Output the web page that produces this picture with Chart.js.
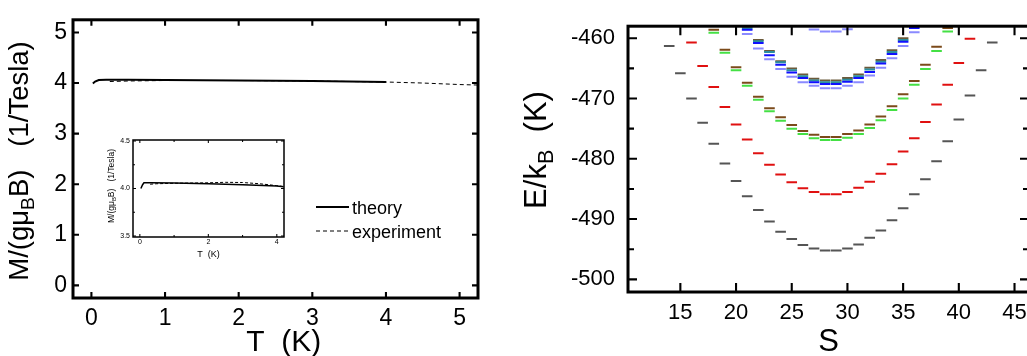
<!DOCTYPE html>
<html>
<head>
<meta charset="utf-8">
<script src="https://cdn.jsdelivr.net/npm/chart.js@4.4.0/dist/chart.umd.min.js"></script>
<style>
  html, body { margin: 0; padding: 0; background: #fff; overflow: hidden; width: 1027px; height: 356px; }
  canvas { position: absolute; }
  #magchart { left: 0; top: 0; }
  #insetchart { left: 95px; top: 130px; }
  #levelchart { left: 500px; top: 0; }
</style>
</head>
<body>
<canvas id="magchart" width="500" height="356"></canvas>
<canvas id="insetchart" width="200" height="130"></canvas>
<canvas id="levelchart" width="540" height="356"></canvas>
<script>
// --- left panel: M/(g muB B) against T
var theoryT = [0.02, 0.05, 0.1, 0.2, 0.5, 1, 2, 3, 4];
var theoryM = [3.99, 4.03, 4.06, 4.065, 4.065, 4.06, 4.05, 4.04, 4.02];
var exptT = [0.25, 0.5, 1, 2, 3, 4, 4.5, 5, 5.25];
var exptM = [4.03, 4.04, 4.05, 4.05, 4.04, 4.02, 4.0, 3.97, 3.96];
var tTicks = [0, 1, 2, 3, 4, 5];
var mTicks = [0, 1, 2, 3, 4, 5];

// inset, zoomed around M = 4
var insetTheoryT = [0.03, 0.08, 0.12, 0.3, 1, 2, 3, 4, 4.2];
var insetTheoryM = [4.0, 4.04, 4.06, 4.06, 4.058, 4.05, 4.04, 4.025, 4.018];
var insetExptT = [0.3, 0.5, 1, 2, 2.5, 3, 3.5, 4, 4.2];
var insetExptM = [4.045, 4.05, 4.055, 4.06, 4.065, 4.063, 4.05, 4.03, 4.02];
var insetTTicks = [0, 2, 4];
var insetTMinor = [1, 3];
var insetMTicks = [3.5, 4.0, 4.5];
var insetMMinor = [3.75, 4.25];

// --- right panel: energy levels E/kB against total spin S
var grayS = [14, 15, 16, 17, 18, 19, 20, 21, 22, 23, 24, 25, 26, 27, 28, 29, 30, 31, 32, 33, 34, 35, 36, 37, 38, 39, 40, 41, 42, 43];
var grayE = [-461.3, -465.8, -470.0, -474.0, -477.5, -480.8, -483.7, -486.2, -488.5, -490.4, -492.1, -493.3, -494.3, -494.9, -495.2,
             -495.2, -494.9, -494.2, -493.1, -491.9, -490.2, -488.2, -485.9, -483.4, -480.4, -477.1, -473.5, -469.5, -465.3, -460.7];
var redS = [16, 17, 18, 19, 20, 21, 22, 23, 24, 25, 26, 27, 28, 29, 30, 31, 32, 33, 34, 35, 36, 37, 38, 39, 40, 41];
var redE = [-460.7, -464.6, -468.1, -471.4, -474.3, -476.8, -479.1, -481.0, -482.6, -483.9, -484.9, -485.5, -485.9,
            -485.9, -485.5, -484.8, -483.8, -482.5, -480.9, -478.8, -476.6, -473.9, -471.0, -467.7, -464.1, -460.1];
var greenS = [18, 19, 20, 21, 22, 23, 24, 25, 26, 27, 28, 29, 30, 31, 32, 33, 34, 35, 36, 37, 38, 39];
var brownE = [-458.6, -461.9, -464.8, -467.4, -469.7, -471.6, -473.1, -474.4, -475.4, -476.0, -476.4,
              -476.4, -475.9, -475.3, -474.3, -473.0, -471.3, -469.3, -467.1, -464.4, -461.4, -458.3];
var greenE = [-459.1, -462.4, -465.3, -467.9, -470.2, -472.1, -473.7, -475.0, -475.9, -476.6, -476.9,
              -476.9, -476.5, -475.9, -474.9, -473.6, -471.9, -470.0, -467.7, -465.1, -462.1, -458.9];
var blueS = [21, 22, 23, 24, 25, 26, 27, 28, 29, 30, 31, 32, 33, 34, 35, 36];
var blueTopE = [-458.1, -460.3, -462.1, -463.8, -465.0, -466.0, -466.7, -467.0, -467.0, -466.6, -466.0, -464.9, -463.6, -462.0, -460.0, -457.7];
var tealE = [-458.4, -460.5, -462.3, -464.0, -465.3, -466.3, -467.0, -467.3, -467.3, -466.9, -466.3, -465.2, -463.9, -462.3, -460.3, -458.0];
var blueE = [-458.6, -460.8, -462.8, -464.4, -465.7, -466.6, -467.3, -467.6, -467.6, -467.2, -466.6, -465.6, -464.2, -462.6, -460.6, -458.3];
var lightBlueE = [-459.3, -461.7, -463.5, -465.1, -466.4, -467.3, -467.9, -468.3, -468.3, -467.9, -467.3, -466.2, -464.9, -463.3, -461.3, -459.0];
var topS = [27, 28, 29, 30];
var topE = [-458.55, -458.9, -458.9, -458.5];
var sTicks = [15, 20, 25, 30, 35, 40, 45];
var eTicks = [-500, -490, -480, -470, -460];
var eMinor = [-495, -485, -475, -465];

var FONT = '"Liberation Sans", Arial, sans-serif';
Chart.defaults.font.family = FONT;
Chart.defaults.color = '#000';

function pairs(xs, ys) {
  return xs.map(function (x, i) { return { x: x, y: ys[i] }; });
}

function fixTicks(list) {
  return function (scale) {
    scale.ticks = list.map(function (v) { return { value: v }; });
  };
}

// box round the plot area, with tick marks pointing inwards on all four sides
function frame(lineWidth, tickLen, minorLen, minorX, minorY) {
  return {
    id: 'frame',
    afterDraw: function (chart) {
      var ctx = chart.ctx, a = chart.chartArea;
      var xs = chart.scales.x, ys = chart.scales.y;
      ctx.save();
      ctx.strokeStyle = '#000';
      ctx.lineWidth = Math.max(1, lineWidth * 0.7);
      ctx.beginPath();
      function tickX(v, len) {
        var px = xs.getPixelForValue(v);
        ctx.moveTo(px, a.bottom); ctx.lineTo(px, a.bottom - len);
        ctx.moveTo(px, a.top); ctx.lineTo(px, a.top + len);
      }
      function tickY(v, len) {
        var py = ys.getPixelForValue(v);
        ctx.moveTo(a.left, py); ctx.lineTo(a.left + len, py);
        ctx.moveTo(a.right, py); ctx.lineTo(a.right - len, py);
      }
      xs.ticks.forEach(function (t) { tickX(t.value, tickLen); });
      ys.ticks.forEach(function (t) { tickY(t.value, tickLen); });
      minorX.forEach(function (v) { tickX(v, minorLen); });
      minorY.forEach(function (v) { tickY(v, minorLen); });
      ctx.stroke();
      ctx.lineWidth = lineWidth;
      ctx.strokeRect(a.left, a.top, a.right - a.left, a.bottom - a.top);
      ctx.restore();
    }
  };
}

// rotated y title with a subscript part
function yTitle(parts, cx, cy, size) {
  return {
    id: 'yTitle',
    afterDraw: function (chart) {
      var ctx = chart.ctx;
      var sub = size * 0.7;
      ctx.save();
      ctx.translate(cx, cy);
      ctx.rotate(-Math.PI / 2);
      ctx.fillStyle = '#000';
      ctx.textBaseline = 'middle';
      var total = 0;
      parts.forEach(function (p) {
        ctx.font = (p.sub ? sub : size) + 'px ' + FONT;
        total += ctx.measureText(p.text).width;
      });
      var x = -total / 2;
      parts.forEach(function (p) {
        ctx.font = (p.sub ? sub : size) + 'px ' + FONT;
        ctx.fillText(p.text, x, p.sub ? size * 0.32 : 0);
        x += ctx.measureText(p.text).width;
      });
      ctx.restore();
    }
  };
}

var lineKey = {
  id: 'lineKey',
  afterDraw: function (chart) {
    var ctx = chart.ctx;
    var rows = [207, 231];
    ctx.save();
    chart.data.datasets.forEach(function (ds, i) {
      ctx.strokeStyle = ds.borderColor;
      ctx.lineWidth = ds.borderWidth;
      ctx.setLineDash(ds.borderDash || []);
      ctx.beginPath();
      ctx.moveTo(316, rows[i]);
      ctx.lineTo(349, rows[i]);
      ctx.stroke();
      ctx.setLineDash([]);
      ctx.fillStyle = '#000';
      ctx.font = '18px ' + FONT;
      ctx.textBaseline = 'middle';
      ctx.fillText(ds.label, 352, rows[i] + 2);
    });
    ctx.restore();
  }
};

var muTitle = [{ text: 'M/(gμ' }, { text: 'B', sub: true }, { text: 'B)   (1/Tesla)' }];

new Chart(document.getElementById('magchart'), {
  type: 'scatter',
  data: {
    datasets: [
      { label: 'theory', data: pairs(theoryT, theoryM), showLine: true, borderColor: '#000', borderWidth: 2, pointRadius: 0 },
      { label: 'experiment', data: pairs(exptT, exptM), showLine: true, borderColor: '#000', borderWidth: 1, borderDash: [4, 3], pointRadius: 0 }
    ]
  },
  options: {
    responsive: false,
    animation: false,
    devicePixelRatio: 1,
    layout: { padding: { top: 15, right: 22, left: 0, bottom: 0 } },
    plugins: { legend: { display: false }, tooltip: { enabled: false } },
    scales: {
      x: {
        type: 'linear', min: -0.25, max: 5.25,
        afterBuildTicks: fixTicks(tTicks),
        afterFit: function (s) { s.height = 58; },
        grid: { display: false, drawTicks: false }, border: { display: false },
        ticks: { padding: 7, font: { size: 23 } },
        title: { display: true, text: '  T  (K)', font: { size: 30, lineHeight: 1 }, padding: { top: 0, bottom: -2 } }
      },
      y: {
        type: 'linear', min: -0.25, max: 5.25,
        afterBuildTicks: fixTicks(mTicks),
        afterFit: function (s) { s.width = 73; },
        grid: { display: false, drawTicks: false }, border: { display: false },
        ticks: { padding: 6, font: { size: 23 } }
      }
    }
  },
  plugins: [frame(3, 6, 0, [], []), yTitle(muTitle, 20, 161, 27.5), lineKey]
});

new Chart(document.getElementById('insetchart'), {
  type: 'scatter',
  data: {
    datasets: [
      { label: 'theory', data: pairs(insetTheoryT, insetTheoryM), showLine: true, borderColor: '#000', borderWidth: 1.5, pointRadius: 0 },
      { label: 'experiment', data: pairs(insetExptT, insetExptM), showLine: true, borderColor: '#000', borderWidth: 1, borderDash: [3, 2], pointRadius: 0 }
    ]
  },
  options: {
    responsive: false,
    animation: false,
    devicePixelRatio: 1,
    layout: { padding: { top: 10, right: 11, left: 0, bottom: 0 } },
    plugins: { legend: { display: false }, tooltip: { enabled: false } },
    scales: {
      x: {
        type: 'linear', min: -0.2, max: 4.21,
        afterBuildTicks: fixTicks(insetTTicks),
        afterFit: function (s) { s.height = 23; },
        grid: { display: false, drawTicks: false }, border: { display: false },
        ticks: { padding: 1, font: { size: 7 } },
        title: { display: true, text: 'T  (K)', font: { size: 9, lineHeight: 1 }, padding: 1 }
      },
      y: {
        type: 'linear', min: 3.49, max: 4.51,
        afterBuildTicks: fixTicks(insetMTicks),
        afterFit: function (s) { s.width = 38; },
        grid: { display: false, drawTicks: false }, border: { display: false },
        ticks: { padding: 3, font: { size: 7 }, callback: function (v) { return v.toFixed(1); } }
      }
    }
  },
  plugins: [frame(1.5, 3, 2, insetTMinor, insetMMinor), yTitle(muTitle, 17, 56, 8.5)]
});

function levels(s, e, color) {
  return {
    data: pairs(s, e), borderColor: color, backgroundColor: color,
    pointStyle: 'line', pointRadius: 5.3, pointBorderWidth: 2, pointHoverRadius: 5.3, clip: 0
  };
}

new Chart(document.getElementById('levelchart'), {
  type: 'scatter',
  data: {
    datasets: [
      levels(grayS, grayE, '#555555'),
      levels(redS, redE, '#e01010'),
      levels(greenS, greenE, '#44e044'),
      levels(greenS, brownE, '#7b4a1a'),
      levels(blueS, lightBlueE, '#8a8aff'),
      levels(blueS, blueE, '#1010ff'),
      levels(blueS, tealE, '#2a8fa0'),
      levels(blueS, blueTopE, '#6b5a3a'),
      levels(topS, topE, '#8a8aff')
    ]
  },
  options: {
    responsive: false,
    animation: false,
    devicePixelRatio: 1,
    layout: { padding: { top: 8, right: 11, left: 0, bottom: 0 } },
    plugins: { legend: { display: false }, tooltip: { enabled: false } },
    scales: {
      x: {
        type: 'linear', min: 10.3, max: 46.3,
        afterBuildTicks: fixTicks(sTicks),
        afterFit: function (s) { s.height = 64; },
        grid: { display: false, drawTicks: false }, border: { display: false },
        ticks: { padding: 8, font: { size: 22 } },
        title: { display: true, text: 'S', font: { size: 31, lineHeight: 1 }, padding: { top: 0, bottom: -2 } }
      },
      y: {
        type: 'linear', min: -502.1, max: -458,
        afterBuildTicks: fixTicks(eTicks),
        afterFit: function (s) { s.width = 128; },
        grid: { display: false, drawTicks: false }, border: { display: false },
        ticks: { padding: 13, font: { size: 22 } }
      }
    }
  },
  plugins: [frame(3, 9, 6, [], eMinor),
            yTitle([{ text: 'E/k' }, { text: 'B', sub: true }, { text: '  (K)' }], 37, 150, 31)]
});
</script>
</body>
</html>
